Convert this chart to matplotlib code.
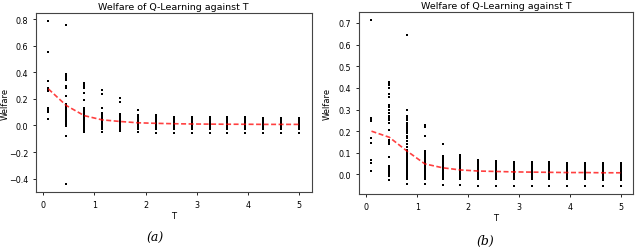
import matplotlib
matplotlib.use("Agg")
import matplotlib.pyplot as plt

# temperatures T
t_values = [0.1, 0.45, 0.8, 1.15, 1.5, 1.85, 2.2, 2.55, 2.9, 3.25, 3.6, 3.95, 4.3, 4.65, 5.0]

# --- panel (a) ---
band_a = [0.05, 0.046, 0.042, 0.038, 0.034, 0.03, 0.026, 0.022, 0.018, 0.014, 0.01,
          0.006, 0.002, -0.002, -0.006, -0.01, -0.014, -0.018, -0.022, -0.026]
welfare_a = [
    [0.785, 0.555, 0.335, 0.285, 0.275, 0.26, 0.13, 0.12, 0.11, 0.10, 0.045],
    [0.76, 0.39, 0.38, 0.37, 0.36, 0.345, 0.30, 0.28, 0.22, 0.16, 0.15, 0.14, 0.13,
     0.12, 0.11, 0.10, 0.09, 0.08, 0.07, 0.06, 0.05, 0.04, 0.03, 0.02, 0.01, 0.0,
     -0.005, -0.08, -0.44],
    [0.32, 0.31, 0.30, 0.29, 0.28, 0.245, 0.195, 0.13, 0.12, 0.10, 0.095, 0.09, 0.085,
     0.08, 0.075, 0.07, 0.065, 0.06, 0.055] + band_a + [-0.03, -0.04, -0.05],
    [0.265, 0.24, 0.135, 0.09, 0.085, 0.08, 0.075, 0.07, 0.065, 0.06, 0.055] + band_a
    + [-0.03, -0.05],
    [0.21, 0.18, 0.085, 0.08, 0.075, 0.07, 0.065, 0.06, 0.055] + band_a + [-0.03, -0.045],
    [0.115, 0.075, 0.07, 0.065, 0.06, 0.055] + band_a + [-0.05],
    [0.075, 0.065, 0.06, 0.055] + band_a + [-0.055],
    [0.065, 0.06, 0.055] + band_a + [-0.055],
    [0.06, 0.055] + band_a + [-0.055],
    [0.06, 0.055] + band_a + [-0.055],
    [0.06, 0.055] + band_a + [-0.055],
    [0.06, 0.055] + band_a + [-0.055],
    [0.055] + band_a + [-0.03, -0.055],
    [0.055] + band_a + [-0.055],
    [0.055] + band_a + [-0.03, -0.055],
]
mean_a = [0.275, 0.15, 0.074, 0.042, 0.03, 0.02, 0.016, 0.013, 0.011, 0.01, 0.009,
          0.009, 0.008, 0.008, 0.008]

# --- panel (b) ---
band_b = [0.05, 0.046, 0.042, 0.038, 0.034, 0.03, 0.026, 0.022, 0.018, 0.014, 0.01,
          0.006, 0.002, -0.002, -0.006, -0.01, -0.014, -0.018, -0.022]
welfare_b = [
    [0.712, 0.26, 0.25, 0.245, 0.17, 0.145, 0.065, 0.055, 0.015],
    [0.425, 0.42, 0.415, 0.40, 0.37, 0.36, 0.32, 0.31, 0.30, 0.285, 0.27, 0.26, 0.25,
     0.24, 0.205, 0.16, 0.15, 0.14, 0.08, 0.04, 0.035, 0.03, 0.025, 0.02, 0.015, 0.01,
     0.005, 0.0, -0.005, -0.025],
    [0.643, 0.30, 0.27, 0.26, 0.25, 0.24, 0.23, 0.22, 0.21, 0.20, 0.19, 0.18, 0.17,
     0.155, 0.14, 0.125, 0.115, 0.105, 0.095, 0.085, 0.08, 0.075, 0.07, 0.065, 0.06,
     0.055] + band_b + [-0.043],
    [0.23, 0.22, 0.18, 0.11, 0.10, 0.09, 0.085, 0.08, 0.075, 0.07, 0.065, 0.06, 0.055]
    + band_b + [-0.045],
    [0.14, 0.085, 0.08, 0.075, 0.07, 0.065, 0.06, 0.055] + band_b + [-0.05],
    [0.088, 0.084, 0.08, 0.075, 0.07, 0.065, 0.06, 0.055] + band_b + [-0.05],
    [0.066, 0.062, 0.058, 0.054] + band_b + [-0.052],
    [0.062, 0.058, 0.054] + band_b + [-0.052],
    [0.058, 0.054] + band_b + [-0.052],
    [0.056, 0.052] + band_b + [-0.052],
    [0.056, 0.052] + band_b + [-0.052],
    [0.052] + band_b + [-0.052],
    [0.052] + band_b + [-0.052],
    [0.052] + band_b + [-0.026, -0.052],
    [0.052] + band_b + [-0.026, -0.052],
]
mean_b = [0.2, 0.172, 0.108, 0.049, 0.031, 0.021, 0.016, 0.014, 0.012, 0.011, 0.01,
          0.009, 0.009, 0.008, 0.008]

fig = plt.figure(figsize=(6.4, 2.51), dpi=100)
ax_a = fig.add_axes([0.056, 0.231, 0.431, 0.713])
ax_b = fig.add_axes([0.561, 0.223, 0.428, 0.725])

for ax, welfare, means in [(ax_a, welfare_a, mean_a), (ax_b, welfare_b, mean_b)]:
    for t, vals in zip(t_values, welfare):
        ax.scatter([t] * len(vals), vals, s=2.2, marker='s', c='black', linewidths=0)
    ax.plot(t_values, means, color='red', linestyle='--', linewidth=1.2, alpha=0.75,
            dashes=(3, 1.5))
    ax.set_title("Welfare of Q-Learning against T", fontsize=6.8, pad=3)
    ax.set_xlabel("T", fontsize=6, labelpad=2)
    ax.set_ylabel("Welfare", fontsize=6)
    ax.tick_params(labelsize=5.8, length=2.5, width=0.6, pad=3)
    for s in ax.spines.values():
        s.set_linewidth(0.8)
        s.set_color('#444444')

ax_a.yaxis.set_label_coords(-0.095, 0.5)
ax_b.yaxis.set_label_coords(-0.1, 0.5)

ax_a.set_xticks([0, 1, 2, 3, 4, 5])
ax_a.set_yticks([-0.4, -0.2, 0.0, 0.2, 0.4, 0.6, 0.8])
ax_b.set_xticks([0, 1, 2, 3, 4, 5])
ax_b.set_yticks([0.0, 0.1, 0.2, 0.3, 0.4, 0.5, 0.6, 0.7])

fig.text(0.243, 0.035, "(a)", fontsize=9, family='DejaVu Serif', style='italic', ha='center')
fig.text(0.758, 0.025, "(b)", fontsize=9, family='DejaVu Serif', style='italic', ha='center')

fig.savefig("out.png", dpi=100)
